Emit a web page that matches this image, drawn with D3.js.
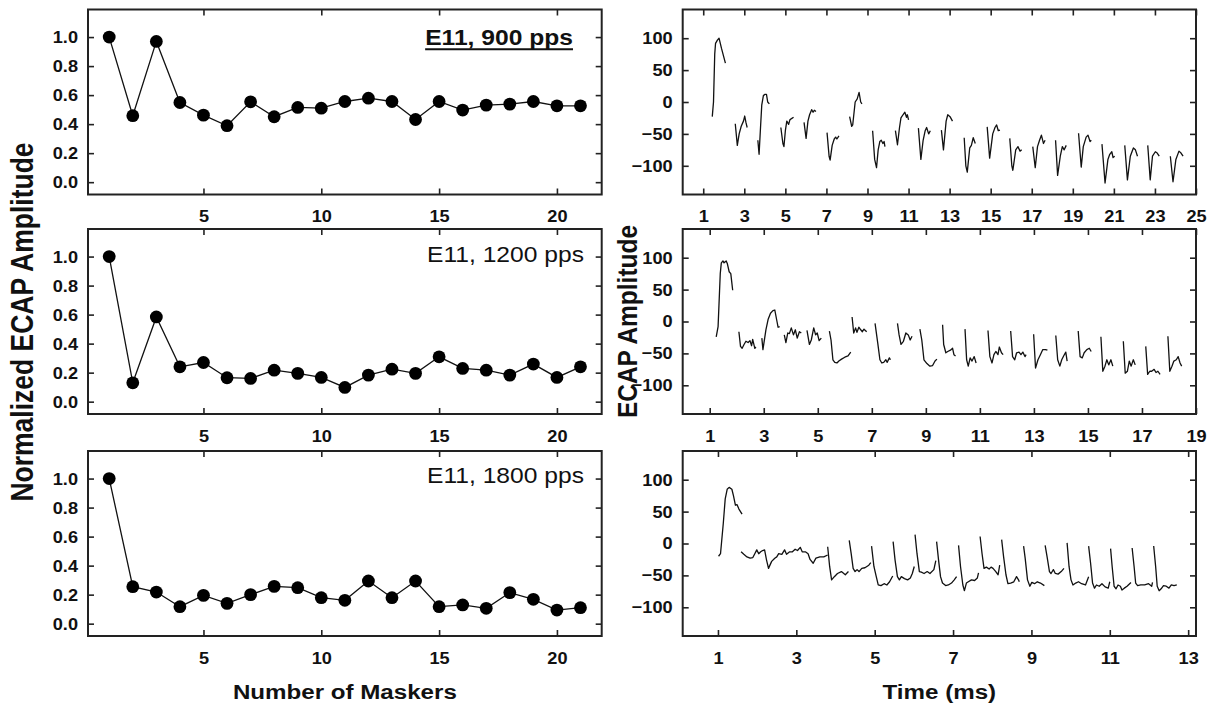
<!DOCTYPE html>
<html><head><meta charset="utf-8">
<script src="https://cdn.jsdelivr.net/npm/d3@7"></script>
<style>
html,body{margin:0;padding:0;background:#fff;}
svg text{font-family:"Liberation Sans",Arial,sans-serif;fill:#111;}
</style></head><body>
<svg id="fig" width="1220" height="707"></svg>
<script>
// ---- data -------------------------------------------------------------
const maskers = [1,2,3,4,5,6,7,8,9,10,11,12,13,14,15,16,17,18,19,20,21];
const amp900  = [1.0,0.458,0.97,0.549,0.462,0.389,0.554,0.451,0.515,0.51,0.556,0.579,0.556,0.432,0.556,0.497,0.531,0.538,0.556,0.526,0.526];
const amp1200 = [1.0,0.13,0.584,0.24,0.27,0.165,0.16,0.217,0.195,0.167,0.098,0.183,0.224,0.195,0.309,0.229,0.217,0.183,0.259,0.167,0.24];
const amp1800 = [1.0,0.255,0.218,0.117,0.195,0.14,0.2,0.257,0.248,0.179,0.161,0.294,0.179,0.294,0.117,0.129,0.106,0.214,0.168,0.094,0.11];
const panelLabels = ["E11, 900 pps","E11, 1200 pps","E11, 1800 pps"];

const ampTicks  = [0,0.2,0.4,0.6,0.8,1.0];
const maskTicks = [5,10,15,20];
const ecapTicks = [-100,-50,0,50,100];
const timeTicks900  = [1,3,5,7,9,11,13,15,17,19,21,23,25];
const timeTicks1200 = [1,3,5,7,9,11,13,15,17,19];
const timeTicks1800 = [1,3,5,7,9,11,13];

// recorded sweeps: onset (ms) and [time after onset (ms), amplitude (uV)]
const trace900 = [
  {onset:1.44, pts:[[0,-23],[0.06,0],[0.12,75],[0.16,92],[0.25,97],[0.33,100],[0.45,84],[0.64,61]]},
  {onset:2.56, pts:[[0,-34],[0.1,-68],[0.19,-50],[0.29,-38],[0.4,-30],[0.46,-22],[0.52,-32],[0.58,-40]]},
  {onset:3.66, pts:[[0,-60],[0.06,-82],[0.13,-40],[0.19,-5],[0.27,10],[0.35,12],[0.42,12],[0.48,0],[0.56,-3]]},
  {onset:4.78, pts:[[0,-40],[0.1,-65],[0.15,-70],[0.22,-45],[0.29,-30],[0.38,-35],[0.44,-28],[0.52,-26],[0.62,-24]]},
  {onset:5.91, pts:[[0,-32],[0.1,-57],[0.19,-30],[0.27,-20],[0.37,-12],[0.44,-16],[0.5,-13],[0.58,-15]]},
  {onset:7.03, pts:[[0,-48],[0.1,-85],[0.15,-91],[0.25,-68],[0.35,-58],[0.42,-55],[0.48,-58],[0.58,-53]]},
  {onset:8.13, pts:[[0,-23],[0.1,-38],[0.15,-36],[0.27,0],[0.37,5],[0.46,15],[0.54,0],[0.6,-3]]},
  {onset:9.25, pts:[[0,-45],[0.1,-90],[0.19,-103],[0.27,-75],[0.35,-62],[0.42,-60],[0.5,-65],[0.56,-62],[0.6,-70]]},
  {onset:10.36, pts:[[0,-45],[0.1,-67],[0.2,-40],[0.27,-25],[0.37,-20],[0.46,-16],[0.54,-24],[0.58,-20],[0.64,-28]]},
  {onset:11.48, pts:[[0,-41],[0.12,-90],[0.23,-60],[0.33,-45],[0.4,-40],[0.5,-50],[0.58,-45]]},
  {onset:12.60, pts:[[0,-44],[0.1,-75],[0.23,-30],[0.31,-20],[0.42,-23],[0.54,-30]]},
  {onset:13.71, pts:[[0,-56],[0.08,-100],[0.15,-110],[0.27,-72],[0.35,-68],[0.44,-56],[0.54,-65]]},
  {onset:14.83, pts:[[0,-39],[0.12,-88],[0.27,-50],[0.38,-40],[0.46,-36],[0.54,-45],[0.62,-44]]},
  {onset:15.93, pts:[[0,-57],[0.1,-100],[0.15,-107],[0.29,-75],[0.4,-70],[0.5,-77],[0.58,-75]]},
  {onset:17.05, pts:[[0,-70],[0.12,-103],[0.23,-70],[0.33,-60],[0.42,-52],[0.52,-65],[0.6,-60]]},
  {onset:18.16, pts:[[0,-60],[0.1,-115],[0.23,-85],[0.33,-70],[0.42,-75],[0.52,-68]]},
  {onset:19.28, pts:[[0,-49],[0.13,-102],[0.23,-70],[0.37,-55],[0.46,-52],[0.56,-62],[0.62,-60]]},
  {onset:20.42, pts:[[0,-66],[0.15,-127],[0.29,-90],[0.38,-82],[0.48,-78],[0.54,-87],[0.62,-85]]},
  {onset:21.53, pts:[[0,-68],[0.13,-122],[0.27,-85],[0.42,-72],[0.52,-75],[0.62,-85]]},
  {onset:22.65, pts:[[0,-68],[0.12,-122],[0.23,-85],[0.37,-78],[0.46,-80],[0.56,-85]]},
  {onset:23.75, pts:[[0,-85],[0.13,-125],[0.27,-90],[0.42,-77],[0.52,-80],[0.62,-85]]}
];

const trace1200 = [
  {onset:1.24, pts:[[0,-24],[0.07,-8],[0.15,75],[0.19,92],[0.25,95],[0.29,92],[0.37,95],[0.41,91],[0.48,78],[0.54,75],[0.61,49]]},
  {onset:2.08, pts:[[0,-16],[0.06,-39],[0.12,-42],[0.19,-36],[0.26,-31],[0.34,-33],[0.41,-30],[0.47,-38],[0.51,-28],[0.59,-42],[0.63,-40]]},
  {onset:2.93, pts:[[0,-26],[0.04,-44],[0.15,-13],[0.23,3],[0.32,13],[0.41,17],[0.48,18],[0.56,0],[0.6,-9],[0.66,-8]]},
  {onset:3.76, pts:[[0,-21],[0.06,-33],[0.13,-18],[0.19,-19],[0.26,-10],[0.34,-21],[0.41,-13],[0.48,-26],[0.56,-16],[0.63,-18]]},
  {onset:4.60, pts:[[0,-14],[0.09,-36],[0.16,-29],[0.25,-10],[0.32,-21],[0.38,-18],[0.45,-30],[0.53,-26]]},
  {onset:5.43, pts:[[0,-15],[0.06,-29],[0.13,-60],[0.2,-64],[0.28,-65],[0.35,-62],[0.45,-59],[0.57,-56],[0.69,-54],[0.79,-48]]},
  {onset:6.27, pts:[[0,7],[0.06,-18],[0.13,-10],[0.18,-17],[0.25,-9],[0.32,-13],[0.38,-16],[0.44,-12],[0.54,-16]]},
  {onset:7.12, pts:[[0,-3],[0.1,-34],[0.18,-60],[0.25,-65],[0.32,-64],[0.4,-60],[0.45,-64],[0.53,-57],[0.57,-60]]},
  {onset:7.95, pts:[[0,-3],[0.06,-21],[0.13,-36],[0.22,-31],[0.31,-18],[0.4,-21],[0.47,-29],[0.54,-23]]},
  {onset:8.78, pts:[[0,-12],[0.07,-29],[0.15,-60],[0.26,-66],[0.37,-70],[0.47,-69],[0.56,-62],[0.63,-59]]},
  {onset:9.62, pts:[[0,-5],[0.04,-36],[0.12,-49],[0.19,-47],[0.29,-45],[0.37,-42],[0.42,-52],[0.48,-54]]},
  {onset:10.45, pts:[[0,-12],[0.06,-60],[0.12,-70],[0.19,-57],[0.26,-62],[0.34,-55],[0.41,-65]]},
  {onset:11.30, pts:[[0,-14],[0.07,-55],[0.15,-65],[0.22,-52],[0.29,-47],[0.37,-52],[0.42,-40],[0.5,-49],[0.56,-52]]},
  {onset:12.14, pts:[[0,-15],[0.07,-55],[0.15,-60],[0.22,-49],[0.31,-48],[0.38,-52],[0.45,-48],[0.53,-55],[0.57,-52]]},
  {onset:12.99, pts:[[0,-20],[0.07,-73],[0.16,-60],[0.25,-52],[0.34,-44],[0.44,-44],[0.51,-45]]},
  {onset:13.81, pts:[[0,-22],[0.07,-60],[0.15,-70],[0.22,-60],[0.29,-54],[0.37,-48],[0.42,-62]]},
  {onset:14.64, pts:[[0,-15],[0.07,-55],[0.15,-57],[0.22,-49],[0.32,-44],[0.41,-42],[0.48,-47]]},
  {onset:15.48, pts:[[0,-24],[0.07,-78],[0.15,-70],[0.22,-60],[0.29,-68],[0.37,-60],[0.44,-70]]},
  {onset:16.31, pts:[[0,-31],[0.07,-81],[0.15,-78],[0.22,-62],[0.29,-70],[0.37,-60],[0.44,-68]]},
  {onset:17.14, pts:[[0,-39],[0.07,-83],[0.15,-78],[0.22,-78],[0.31,-75],[0.38,-80],[0.45,-78],[0.53,-83]]},
  {onset:17.96, pts:[[0,-23],[0.07,-78],[0.15,-70],[0.22,-62],[0.31,-60],[0.38,-55],[0.45,-65],[0.51,-70]]}
];

const trace1800 = [
  {onset:1.015, pts:[[0,-20],[0.05,-16],[0.12,31],[0.17,70],[0.22,85],[0.27,88],[0.34,85],[0.38,75],[0.43,60],[0.47,61],[0.52,54],[0.6,46]]},
  {onset:1.59, pts:[[0,-13],[0.07,-17],[0.15,-21],[0.23,-23],[0.3,-22],[0.35,-16],[0.4,-10],[0.45,-16],[0.5,-13],[0.55,-11],[0.6,-10],[0.65,-26],[0.7,-39],[0.78,-28],[0.86,-23],[0.91,-21],[0.96,-16],[1.04,-17],[1.11,-10],[1.16,-17],[1.24,-13],[1.31,-13],[1.38,-9],[1.44,-11],[1.51,-6],[1.56,-13],[1.64,-13],[1.71,-16],[1.76,-25],[1.84,-31],[1.91,-23],[2.01,-21],[2.11,-21],[2.21,-18]]},
  {onset:3.80, pts:[[0,-5],[0.05,-36],[0.1,-57],[0.17,-52],[0.25,-47],[0.35,-44],[0.45,-49],[0.53,-44]]},
  {onset:4.35, pts:[[0,5],[0.05,-16],[0.1,-39],[0.15,-44],[0.2,-41],[0.25,-44],[0.32,-39],[0.4,-38],[0.5,-34],[0.55,-30]]},
  {onset:4.92, pts:[[0,-4],[0.06,-36],[0.12,-52],[0.17,-65],[0.24,-66],[0.32,-63],[0.39,-65],[0.46,-60],[0.54,-51]]},
  {onset:5.47, pts:[[0,3],[0.05,-26],[0.11,-52],[0.16,-57],[0.21,-52],[0.29,-55],[0.37,-57],[0.44,-54],[0.49,-47],[0.54,-36]]},
  {onset:6.03, pts:[[0,14],[0.05,-16],[0.11,-44],[0.16,-45],[0.23,-47],[0.31,-44],[0.38,-47],[0.48,-41],[0.53,-27]]},
  {onset:6.58, pts:[[0,3],[0.05,-26],[0.1,-52],[0.15,-62],[0.23,-66],[0.3,-65],[0.38,-62],[0.45,-57],[0.51,-52]]},
  {onset:7.14, pts:[[0,-3],[0.05,-36],[0.11,-65],[0.15,-74],[0.2,-62],[0.25,-60],[0.33,-57],[0.41,-58],[0.48,-54],[0.51,-46]]},
  {onset:7.69, pts:[[0,11],[0.05,-16],[0.1,-39],[0.16,-37],[0.23,-40],[0.28,-37],[0.33,-39],[0.4,-44],[0.46,-49],[0.5,-34]]},
  {onset:8.24, pts:[[0,6],[0.05,-21],[0.11,-49],[0.16,-63],[0.23,-62],[0.31,-60],[0.38,-52],[0.43,-57],[0.45,-60]]},
  {onset:8.80, pts:[[0,-4],[0.04,-23],[0.1,-57],[0.16,-67],[0.21,-61],[0.28,-63],[0.35,-60],[0.43,-62],[0.53,-66]]},
  {onset:9.35, pts:[[0,-3],[0.05,-21],[0.11,-44],[0.15,-47],[0.21,-41],[0.26,-47],[0.33,-48],[0.41,-44],[0.48,-39]]},
  {onset:9.91, pts:[[0,1],[0.05,-36],[0.1,-57],[0.15,-65],[0.22,-62],[0.29,-60],[0.37,-63],[0.47,-65],[0.55,-52]]},
  {onset:10.46, pts:[[0,-4],[0.05,-31],[0.1,-62],[0.15,-70],[0.2,-65],[0.27,-67],[0.34,-63],[0.42,-68],[0.5,-70],[0.54,-60]]},
  {onset:11.02, pts:[[0,-8],[0.04,-36],[0.09,-67],[0.14,-71],[0.19,-65],[0.25,-67],[0.29,-73],[0.35,-70],[0.42,-67],[0.52,-61]]},
  {onset:11.57, pts:[[0,-7],[0.05,-36],[0.09,-62],[0.14,-66],[0.22,-65],[0.32,-65],[0.42,-63],[0.5,-67],[0.52,-61]]},
  {onset:12.12, pts:[[0,-4],[0.05,-36],[0.09,-67],[0.14,-74],[0.19,-71],[0.25,-66],[0.32,-67],[0.39,-70],[0.45,-65],[0.52,-66],[0.59,-65]]}
];

// ---- layout -----------------------------------------------------------
const svg = d3.select("#fig");
const panelTops = [9.5, 229, 451];
const panelH = 185;
const leftX = [88, 601.7];
const rightX = [682.7, 1196];
const tickFont = 17, tickStretch = 1.07;
const ink = "#222";

// horizontally widened bold text, as set in the original figure typeface
function widen(sel, s) {
  sel.each(function() {
    const t = d3.select(this);
    const x = +t.attr("x") || 0;
    t.attr("x", x / s).attr("transform", `scale(${s},1)`);
  });
}

function styleAxis(g) {
  g.attr("font-family", null).attr("font-size", null);
  g.select(".domain").remove();
  g.selectAll(".tick line").attr("stroke", ink).attr("stroke-width", 1.6);
  g.selectAll(".tick text")
    .style("font-size", tickFont + "px").style("font-weight", "bold")
    .style("font-family", "'Liberation Sans', Arial, sans-serif");
  widen(g.selectAll(".tick text"), tickStretch);
}

function frame(x0, x1, top) {
  svg.append("rect")
    .attr("x", x0).attr("y", top).attr("width", x1 - x0).attr("height", panelH)
    .attr("fill", "none").attr("stroke", ink).attr("stroke-width", 2);
}

function axes(x, y, top, xTicks, yTicks, yFmt) {
  const bottom = top + panelH;
  const [x0, x1] = x.range();
  svg.append("g").attr("transform", `translate(0,${bottom})`)
    .call(d3.axisBottom(x).tickValues(xTicks).tickSizeInner(-6).tickSizeOuter(0).tickPadding(15.5))
    .call(styleAxis);
  svg.append("g").attr("transform", `translate(0,${top})`)
    .call(d3.axisTop(x).tickValues(xTicks).tickSizeInner(-6).tickSizeOuter(0).tickFormat(""))
    .call(styleAxis);
  svg.append("g").attr("transform", `translate(${x0},0)`)
    .call(d3.axisLeft(y).tickValues(yTicks).tickSizeInner(-6).tickSizeOuter(0).tickPadding(10).tickFormat(yFmt))
    .call(styleAxis);
  svg.append("g").attr("transform", `translate(${x1},0)`)
    .call(d3.axisRight(y).tickValues(yTicks).tickSizeInner(-6).tickSizeOuter(0).tickFormat(""))
    .call(styleAxis);
}

// ---- left column: normalized amplitude vs number of maskers ----------
const ampSeries = [amp900, amp1200, amp1800];
const labelRight = [573, 584, 584];
const labelBase = [45, 33, 32.5];

ampSeries.forEach((vals, i) => {
  const top = panelTops[i];
  const x = d3.scaleLinear().domain([0.1, 21.9]).range(leftX);
  const y = d3.scaleLinear().domain([-0.085, 1.19]).range([top + panelH, top]);
  const pts = maskers.map((m, k) => [m, vals[k]]);

  svg.append("path").datum(pts)
    .attr("fill", "none").attr("stroke", "#111").attr("stroke-width", 1.3)
    .attr("d", d3.line().x(d => x(d[0])).y(d => y(d[1])));
  svg.append("g").selectAll("circle").data(pts).join("circle")
    .attr("cx", d => x(d[0])).attr("cy", d => y(d[1])).attr("r", 6.4).attr("fill", "#000");

  axes(x, y, top, maskTicks, ampTicks, d3.format(".1f"));
  frame(leftX[0], leftX[1], top);

  const lab = svg.append("text")
    .attr("x", labelRight[i]).attr("y", i === 0 ? labelBase[0] : top + labelBase[i])
    .attr("text-anchor", "end").attr("font-size", 22)
    .attr("font-weight", i === 0 ? "bold" : "normal")
    .text(panelLabels[i]);
  widen(lab, 1.12);
  if (i === 0) {
    const bb = lab.node().getBBox();
    svg.append("line")
      .attr("x1", bb.x * 1.12).attr("x2", (bb.x + bb.width) * 1.12)
      .attr("y1", labelBase[0] + 4.3).attr("y2", labelBase[0] + 4.3)
      .attr("stroke", "#111").attr("stroke-width", 2);
  }
});

// ---- right column: ECAP waveforms vs time ----------------------------
const traces = [trace900, trace1200, trace1800];
const timeDomains = [[0, 25], [0, 19], [0.1, 13.2]];
const timeTicks = [timeTicks900, timeTicks1200, timeTicks1800];

traces.forEach((segs, i) => {
  const top = panelTops[i];
  const x = d3.scaleLinear().domain(timeDomains[i]).range(rightX);
  const y = d3.scaleLinear().domain([-145, 145]).range([top + panelH, top]);
  const line = d3.line().x(d => x(d.t)).y(d => y(d.v));
  svg.append("g").selectAll("path").data(segs).join("path")
    .attr("fill", "none").attr("stroke", "#111").attr("stroke-width", 1.3)
    .attr("stroke-linejoin", "round")
    .attr("d", s => line(s.pts.map(p => ({t: s.onset + p[0], v: p[1]}))));
  axes(x, y, top, timeTicks[i], ecapTicks, d3.format("d"));
  frame(rightX[0], rightX[1], top);
});

// ---- axis titles ------------------------------------------------------
const xTitleStretch = 1.15;
const t1 = svg.append("text").attr("x", (leftX[0] + leftX[1]) / 2).attr("y", 699)
  .attr("text-anchor", "middle").attr("font-size", 21).attr("font-weight", "bold")
  .text("Number of Maskers");
widen(t1, xTitleStretch);
const t2 = svg.append("text").attr("x", (rightX[0] + rightX[1]) / 2).attr("y", 699)
  .attr("text-anchor", "middle").attr("font-size", 21).attr("font-weight", "bold")
  .text("Time (ms)");
widen(t2, xTitleStretch);

svg.append("text")
  .attr("transform", "translate(33,322) rotate(-90) scale(1,1.15)")
  .attr("text-anchor", "middle").attr("font-size", 26.5).attr("font-weight", "bold")
  .text("Normalized ECAP Amplitude");
svg.append("text")
  .attr("transform", "translate(637,321.5) rotate(-90) scale(1,1.15)")
  .attr("text-anchor", "middle").attr("font-size", 24.5).attr("font-weight", "bold")
  .text("ECAP Amplitude");
</script>
</body></html>
